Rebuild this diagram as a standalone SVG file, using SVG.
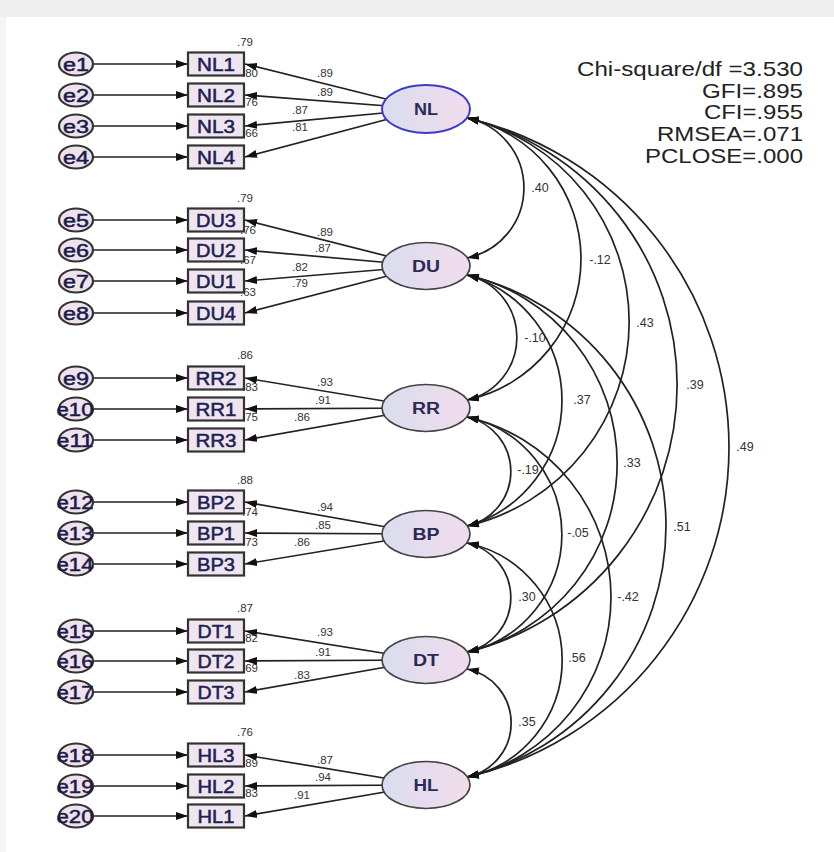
<svg xmlns="http://www.w3.org/2000/svg" width="834" height="852" viewBox="0 0 834 852">
<defs>
<linearGradient id="lat" x1="0" y1="0" x2="1" y2="0">
<stop offset="0" stop-color="#d9ddef"/>
<stop offset="1" stop-color="#f2dcec"/>
</linearGradient>
<marker id="ah" viewBox="0 0 12 8" refX="12" refY="4" markerWidth="12" markerHeight="8" markerUnits="userSpaceOnUse" orient="auto-start-reverse">
<path d="M0,0 L12,4 L0,8 z" fill="#111"/>
</marker>
<style>
.ln{stroke:#222;stroke-width:1.7;fill:none;marker-end:url(#ah)}
.arc{stroke:#222;stroke-width:1.7;fill:none;marker-start:url(#ah);marker-end:url(#ah)}
.box{fill:#efe5f1;stroke:#333;stroke-width:2.2}
.err{fill:#efe2ef;stroke:#333;stroke-width:2.2}
.lat{fill:url(#lat);stroke:#444;stroke-width:1.7}
.bt{font-family:"Liberation Sans",Arial,sans-serif;font-size:18px;fill:#1c2250;stroke:#1c2250;stroke-width:0.5;text-anchor:middle}
.et{font-family:"Liberation Sans",Arial,sans-serif;font-size:18px;fill:#1c1c48;stroke:#1c1c48;stroke-width:0.5;text-anchor:middle}
.lt{font-family:"Liberation Sans",Arial,sans-serif;font-size:16px;font-weight:bold;fill:#2a2a55;text-anchor:middle}
.n{font-family:"Liberation Sans",Arial,sans-serif;font-size:11.5px;fill:#333;text-anchor:middle}
.c{font-family:"Liberation Sans",Arial,sans-serif;font-size:12.5px;fill:#333;text-anchor:middle}
.fit{font-family:"Liberation Sans",Arial,sans-serif;font-size:21px;fill:#222}
</style>
</defs>
<rect x="0" y="0" width="834" height="852" fill="#fff"/>
<rect x="0" y="0" width="834" height="17" fill="#efefef"/>
<rect x="0" y="17" width="6" height="835" fill="#f5f5f5"/>

<g id="connectors">
<line class="ln" x1="93" y1="64" x2="188" y2="64"/>
<line class="ln" x1="93" y1="95" x2="188" y2="95"/>
<line class="ln" x1="93" y1="126" x2="188" y2="126"/>
<line class="ln" x1="93" y1="157" x2="188" y2="157"/>
<line class="ln" x1="93" y1="220" x2="188" y2="220"/>
<line class="ln" x1="93" y1="250" x2="188" y2="250"/>
<line class="ln" x1="93" y1="281" x2="188" y2="281"/>
<line class="ln" x1="93" y1="313" x2="188" y2="313"/>
<line class="ln" x1="93" y1="378" x2="188" y2="378"/>
<line class="ln" x1="93" y1="409" x2="188" y2="409"/>
<line class="ln" x1="93" y1="440" x2="188" y2="440"/>
<line class="ln" x1="93" y1="502" x2="188" y2="502"/>
<line class="ln" x1="93" y1="533" x2="188" y2="533"/>
<line class="ln" x1="93" y1="564" x2="188" y2="564"/>
<line class="ln" x1="93" y1="631" x2="188" y2="631"/>
<line class="ln" x1="93" y1="661" x2="188" y2="661"/>
<line class="ln" x1="93" y1="692" x2="188" y2="692"/>
<line class="ln" x1="93" y1="755" x2="188" y2="755"/>
<line class="ln" x1="93" y1="786" x2="188" y2="786"/>
<line class="ln" x1="93" y1="816" x2="188" y2="816"/>
<line class="ln" x1="426" y1="109" x2="245" y2="64"/>
<line class="ln" x1="426" y1="109" x2="245" y2="95"/>
<line class="ln" x1="426" y1="109" x2="245" y2="126"/>
<line class="ln" x1="426" y1="109" x2="245" y2="157"/>
<line class="ln" x1="426" y1="266" x2="245" y2="220"/>
<line class="ln" x1="426" y1="266" x2="245" y2="250"/>
<line class="ln" x1="426" y1="266" x2="245" y2="281"/>
<line class="ln" x1="426" y1="266" x2="245" y2="313"/>
<line class="ln" x1="426" y1="408" x2="245" y2="378"/>
<line class="ln" x1="426" y1="408" x2="245" y2="409"/>
<line class="ln" x1="426" y1="408" x2="245" y2="440"/>
<line class="ln" x1="426" y1="534" x2="245" y2="502"/>
<line class="ln" x1="426" y1="534" x2="245" y2="533"/>
<line class="ln" x1="426" y1="534" x2="245" y2="564"/>
<line class="ln" x1="426" y1="660" x2="245" y2="631"/>
<line class="ln" x1="426" y1="660" x2="245" y2="661"/>
<line class="ln" x1="426" y1="660" x2="245" y2="692"/>
<line class="ln" x1="426" y1="785" x2="245" y2="755"/>
<line class="ln" x1="426" y1="785" x2="245" y2="786"/>
<line class="ln" x1="426" y1="785" x2="245" y2="816"/>
<path class="arc" d="M467,118 A71.5,71.5 0 0 1 467,258"/>
<path class="arc" d="M467,118 A144.2,144.2 0 0 1 467,400"/>
<path class="arc" d="M467,118 A209.4,209.4 0 0 1 467,526"/>
<path class="arc" d="M467,118 A274.7,274.7 0 0 1 467,652"/>
<path class="arc" d="M467,118 A338.2,338.2 0 0 1 467,777"/>
<path class="arc" d="M467,275 A64.1,64.1 0 0 1 467,400"/>
<path class="arc" d="M467,275 A130.4,130.4 0 0 1 467,526"/>
<path class="arc" d="M467,275 A193.4,193.4 0 0 1 467,652"/>
<path class="arc" d="M467,275 A257.8,257.8 0 0 1 467,777"/>
<path class="arc" d="M467,417 A55.8,55.8 0 0 1 467,526"/>
<path class="arc" d="M467,417 A120.2,120.2 0 0 1 467,652"/>
<path class="arc" d="M467,417 A184.5,184.5 0 0 1 467,777"/>
<path class="arc" d="M467,543 A55.8,55.8 0 0 1 467,652"/>
<path class="arc" d="M467,543 A119.5,119.5 0 0 1 467,777"/>
<path class="arc" d="M467,669 A55.1,55.1 0 0 1 467,777"/>
<text class="c" x="540" y="192">.40</text>
<text class="c" x="600" y="264">-.12</text>
<text class="c" x="645" y="327">.43</text>
<text class="c" x="695" y="389">.39</text>
<text class="c" x="745" y="451">.49</text>
<text class="c" x="535" y="342">-.10</text>
<text class="c" x="582" y="404">.37</text>
<text class="c" x="632" y="467">.33</text>
<text class="c" x="682" y="531">.51</text>
<text class="c" x="528" y="474">-.19</text>
<text class="c" x="578" y="537">-.05</text>
<text class="c" x="628" y="601">-.42</text>
<text class="c" x="527" y="601">.30</text>
<text class="c" x="577" y="662">.56</text>
<text class="c" x="527" y="726">.35</text>
<text class="n" x="325" y="77">.89</text>
<text class="n" x="325" y="96">.89</text>
<text class="n" x="300" y="114">.87</text>
<text class="n" x="300" y="131">.81</text>
<text class="n" x="325" y="236">.89</text>
<text class="n" x="323" y="252">.87</text>
<text class="n" x="300" y="271">.82</text>
<text class="n" x="300" y="287">.79</text>
<text class="n" x="325" y="386">.93</text>
<text class="n" x="323" y="404">.91</text>
<text class="n" x="302" y="421">.86</text>
<text class="n" x="325" y="511">.94</text>
<text class="n" x="323" y="529">.85</text>
<text class="n" x="302" y="546">.86</text>
<text class="n" x="325" y="636">.93</text>
<text class="n" x="323" y="656">.91</text>
<text class="n" x="302" y="679">.83</text>
<text class="n" x="325" y="764">.87</text>
<text class="n" x="323" y="781">.94</text>
<text class="n" x="302" y="799">.91</text>
</g>

<g id="e1"><ellipse class="err" cx="76" cy="64" rx="17" ry="11.5"/><text class="et" x="76" y="70.5" textLength="26" lengthAdjust="spacingAndGlyphs">e1</text></g>
<g id="e2"><ellipse class="err" cx="76" cy="95" rx="17" ry="11.5"/><text class="et" x="76" y="101.5" textLength="26" lengthAdjust="spacingAndGlyphs">e2</text></g>
<g id="e3"><ellipse class="err" cx="76" cy="126" rx="17" ry="11.5"/><text class="et" x="76" y="132.5" textLength="26" lengthAdjust="spacingAndGlyphs">e3</text></g>
<g id="e4"><ellipse class="err" cx="76" cy="157" rx="17" ry="11.5"/><text class="et" x="76" y="163.5" textLength="26" lengthAdjust="spacingAndGlyphs">e4</text></g>
<g id="e5"><ellipse class="err" cx="76" cy="220" rx="17" ry="11.5"/><text class="et" x="76" y="226.5" textLength="26" lengthAdjust="spacingAndGlyphs">e5</text></g>
<g id="e6"><ellipse class="err" cx="76" cy="250" rx="17" ry="11.5"/><text class="et" x="76" y="256.5" textLength="26" lengthAdjust="spacingAndGlyphs">e6</text></g>
<g id="e7"><ellipse class="err" cx="76" cy="281" rx="17" ry="11.5"/><text class="et" x="76" y="287.5" textLength="26" lengthAdjust="spacingAndGlyphs">e7</text></g>
<g id="e8"><ellipse class="err" cx="76" cy="313" rx="17" ry="11.5"/><text class="et" x="76" y="319.5" textLength="26" lengthAdjust="spacingAndGlyphs">e8</text></g>
<g id="e9"><ellipse class="err" cx="76" cy="378" rx="17" ry="11.5"/><text class="et" x="76" y="384.5" textLength="26" lengthAdjust="spacingAndGlyphs">e9</text></g>
<g id="e10"><ellipse class="err" cx="76" cy="409" rx="17" ry="11.5"/><text class="et" x="75" y="415.5" textLength="37" lengthAdjust="spacingAndGlyphs">e10</text></g>
<g id="e11"><ellipse class="err" cx="76" cy="440" rx="17" ry="11.5"/><text class="et" x="75" y="446.5" textLength="37" lengthAdjust="spacingAndGlyphs">e11</text></g>
<g id="e12"><ellipse class="err" cx="76" cy="502" rx="17" ry="11.5"/><text class="et" x="75" y="508.5" textLength="37" lengthAdjust="spacingAndGlyphs">e12</text></g>
<g id="e13"><ellipse class="err" cx="76" cy="533" rx="17" ry="11.5"/><text class="et" x="75" y="539.5" textLength="37" lengthAdjust="spacingAndGlyphs">e13</text></g>
<g id="e14"><ellipse class="err" cx="76" cy="564" rx="17" ry="11.5"/><text class="et" x="75" y="570.5" textLength="37" lengthAdjust="spacingAndGlyphs">e14</text></g>
<g id="e15"><ellipse class="err" cx="76" cy="631" rx="17" ry="11.5"/><text class="et" x="75" y="637.5" textLength="37" lengthAdjust="spacingAndGlyphs">e15</text></g>
<g id="e16"><ellipse class="err" cx="76" cy="661" rx="17" ry="11.5"/><text class="et" x="75" y="667.5" textLength="37" lengthAdjust="spacingAndGlyphs">e16</text></g>
<g id="e17"><ellipse class="err" cx="76" cy="692" rx="17" ry="11.5"/><text class="et" x="75" y="698.5" textLength="37" lengthAdjust="spacingAndGlyphs">e17</text></g>
<g id="e18"><ellipse class="err" cx="76" cy="755" rx="17" ry="11.5"/><text class="et" x="75" y="761.5" textLength="37" lengthAdjust="spacingAndGlyphs">e18</text></g>
<g id="e19"><ellipse class="err" cx="76" cy="786" rx="17" ry="11.5"/><text class="et" x="75" y="792.5" textLength="37" lengthAdjust="spacingAndGlyphs">e19</text></g>
<g id="e20"><ellipse class="err" cx="76" cy="816" rx="17" ry="11.5"/><text class="et" x="75" y="822.5" textLength="37" lengthAdjust="spacingAndGlyphs">e20</text></g>

<g id="HL1"><rect class="box" x="188" y="804.5" width="56" height="23"/><text class="bt" x="216" y="822.5" textLength="37" lengthAdjust="spacingAndGlyphs">HL1</text><text class="n" x="250" y="797">.83</text></g>
<g id="HL2"><rect class="box" x="188" y="774.5" width="56" height="23"/><text class="bt" x="216" y="792.5" textLength="37" lengthAdjust="spacingAndGlyphs">HL2</text><text class="n" x="250" y="767">.89</text></g>
<g id="HL3"><rect class="box" x="188" y="743.5" width="56" height="23"/><text class="bt" x="216" y="761.5" textLength="37" lengthAdjust="spacingAndGlyphs">HL3</text><text class="n" x="245" y="736">.76</text></g>
<g id="DT3"><rect class="box" x="188" y="680.5" width="56" height="23"/><text class="bt" x="216" y="698.5" textLength="37" lengthAdjust="spacingAndGlyphs">DT3</text><text class="n" x="250" y="672">.69</text></g>
<g id="DT2"><rect class="box" x="188" y="649.5" width="56" height="23"/><text class="bt" x="216" y="667.5" textLength="37" lengthAdjust="spacingAndGlyphs">DT2</text><text class="n" x="250" y="642">.82</text></g>
<g id="DT1"><rect class="box" x="188" y="619.5" width="56" height="23"/><text class="bt" x="216" y="637.5" textLength="37" lengthAdjust="spacingAndGlyphs">DT1</text><text class="n" x="245" y="612">.87</text></g>
<g id="BP3"><rect class="box" x="188" y="552.5" width="56" height="23"/><text class="bt" x="216" y="570.5" textLength="38" lengthAdjust="spacingAndGlyphs">BP3</text><text class="n" x="250" y="546">.73</text></g>
<g id="BP1"><rect class="box" x="188" y="521.5" width="56" height="23"/><text class="bt" x="216" y="539.5" textLength="38" lengthAdjust="spacingAndGlyphs">BP1</text><text class="n" x="250" y="516">.74</text></g>
<g id="BP2"><rect class="box" x="188" y="490.5" width="56" height="23"/><text class="bt" x="216" y="508.5" textLength="38" lengthAdjust="spacingAndGlyphs">BP2</text><text class="n" x="245" y="484">.88</text></g>
<g id="RR3"><rect class="box" x="188" y="428.5" width="56" height="23"/><text class="bt" x="216" y="446.5" textLength="41" lengthAdjust="spacingAndGlyphs">RR3</text><text class="n" x="250" y="421">.75</text></g>
<g id="RR1"><rect class="box" x="188" y="397.5" width="56" height="23"/><text class="bt" x="216" y="415.5" textLength="41" lengthAdjust="spacingAndGlyphs">RR1</text><text class="n" x="250" y="391">.83</text></g>
<g id="RR2"><rect class="box" x="188" y="366.5" width="56" height="23"/><text class="bt" x="216" y="384.5" textLength="41" lengthAdjust="spacingAndGlyphs">RR2</text><text class="n" x="245" y="359">.86</text></g>
<g id="DU4"><rect class="box" x="188" y="301.5" width="56" height="23"/><text class="bt" x="216" y="319.5" textLength="40" lengthAdjust="spacingAndGlyphs">DU4</text><text class="n" x="248" y="296">.63</text></g>
<g id="DU1"><rect class="box" x="188" y="269.5" width="56" height="23"/><text class="bt" x="216" y="287.5" textLength="40" lengthAdjust="spacingAndGlyphs">DU1</text><text class="n" x="248" y="264">.67</text></g>
<g id="DU2"><rect class="box" x="188" y="238.5" width="56" height="23"/><text class="bt" x="216" y="256.5" textLength="40" lengthAdjust="spacingAndGlyphs">DU2</text><text class="n" x="248" y="234">.76</text></g>
<g id="DU3"><rect class="box" x="188" y="208.5" width="56" height="23"/><text class="bt" x="216" y="226.5" textLength="40" lengthAdjust="spacingAndGlyphs">DU3</text><text class="n" x="245" y="202">.79</text></g>
<g id="NL4"><rect class="box" x="188" y="145.5" width="56" height="23"/><text class="bt" x="216" y="163.5" textLength="38" lengthAdjust="spacingAndGlyphs">NL4</text><text class="n" x="250" y="137">.66</text></g>
<g id="NL3"><rect class="box" x="188" y="114.5" width="56" height="23"/><text class="bt" x="216" y="132.5" textLength="38" lengthAdjust="spacingAndGlyphs">NL3</text><text class="n" x="250" y="106">.76</text></g>
<g id="NL2"><rect class="box" x="188" y="83.5" width="56" height="23"/><text class="bt" x="216" y="101.5" textLength="38" lengthAdjust="spacingAndGlyphs">NL2</text><text class="n" x="250" y="77">.80</text></g>
<g id="NL1"><rect class="box" x="188" y="52.5" width="56" height="23"/><text class="bt" x="216" y="70.5" textLength="38" lengthAdjust="spacingAndGlyphs">NL1</text><text class="n" x="245" y="46">.79</text></g>

<g id="NL"><ellipse class="lat" cx="426" cy="109" rx="44" ry="24" style="stroke:#3c3cc4;stroke-width:2"/><text class="lt" x="426" y="115" textLength="24" lengthAdjust="spacingAndGlyphs">NL</text></g>
<g id="DU"><ellipse class="lat" cx="426" cy="266" rx="44" ry="23.5"/><text class="lt" x="426" y="272" textLength="28" lengthAdjust="spacingAndGlyphs">DU</text></g>
<g id="RR"><ellipse class="lat" cx="426" cy="408" rx="44" ry="23.5"/><text class="lt" x="426" y="414" textLength="28" lengthAdjust="spacingAndGlyphs">RR</text></g>
<g id="BP"><ellipse class="lat" cx="426" cy="534" rx="44" ry="23.5"/><text class="lt" x="426" y="540" textLength="27" lengthAdjust="spacingAndGlyphs">BP</text></g>
<g id="DT"><ellipse class="lat" cx="426" cy="660" rx="44" ry="23.5"/><text class="lt" x="426" y="666" textLength="26" lengthAdjust="spacingAndGlyphs">DT</text></g>
<g id="HL"><ellipse class="lat" cx="426" cy="785" rx="44" ry="23.5"/><text class="lt" x="426" y="791" textLength="25" lengthAdjust="spacingAndGlyphs">HL</text></g>

<g id="fit">
<text class="fit" x="577" y="76" textLength="226" lengthAdjust="spacingAndGlyphs">Chi-square/df =3.530</text>
<text class="fit" x="702" y="97.5" textLength="101" lengthAdjust="spacingAndGlyphs">GFI=.895</text>
<text class="fit" x="704" y="118.5" textLength="99" lengthAdjust="spacingAndGlyphs">CFI=.955</text>
<text class="fit" x="657" y="140.5" textLength="146" lengthAdjust="spacingAndGlyphs">RMSEA=.071</text>
<text class="fit" x="645" y="162.5" textLength="158" lengthAdjust="spacingAndGlyphs">PCLOSE=.000</text>
</g>
</svg>
